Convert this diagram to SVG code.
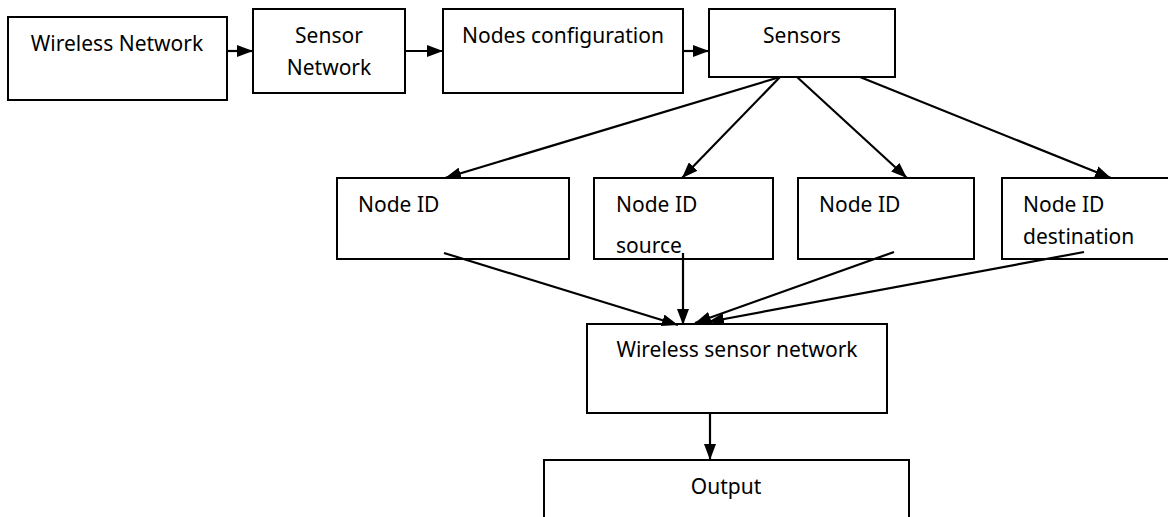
<svg xmlns="http://www.w3.org/2000/svg" width="1168" height="517" viewBox="0 0 1168 517">
<style>
.box{fill:#fff;stroke:#000;stroke-width:2}
.t{font-family:"Noto Sans","Open Sans",sans-serif;font-size:21px;fill:#000}
.c{text-anchor:middle}
.ln{stroke:#000;stroke-width:2.2;fill:none;marker-end:url(#ah)}
</style>
<defs>
<marker id="ah" markerUnits="userSpaceOnUse" markerWidth="16" markerHeight="12" refX="16" refY="6" orient="auto">
<path d="M0,0 L16,6 L0,12 z" fill="#000"/>
</marker>
</defs>
<rect width="1168" height="517" fill="#fff"/>
<g id="n-wireless-network"><rect class="box" x="8" y="17" width="219" height="83"/><text class="t c" x="117" y="51">Wireless Network</text></g>
<g id="n-sensor-network"><rect class="box" x="253" y="9" width="152" height="84"/><text class="t c" x="329" y="43">Sensor</text><text class="t c" x="329" y="75">Network</text></g>
<g id="n-nodes-config"><rect class="box" x="443" y="9" width="240" height="84"/><text class="t c" x="563" y="43">Nodes configuration</text></g>
<g id="n-sensors"><rect class="box" x="709" y="9" width="186" height="68"/><text class="t c" x="802" y="43">Sensors</text></g>
<g id="n-node-id-1"><rect class="box" x="337" y="178" width="232" height="81"/><text class="t" x="358" y="212">Node ID</text></g>
<g id="n-node-id-source"><rect class="box" x="594" y="178" width="179" height="81"/><text class="t" x="616" y="212">Node ID</text><text class="t" x="616" y="253">source</text></g>
<g id="n-node-id-3"><rect class="box" x="798" y="178" width="176" height="81"/><text class="t" x="819" y="212">Node ID</text></g>
<g id="n-node-id-destination"><rect class="box" x="1002" y="178" width="172" height="81"/><text class="t" x="1023" y="212">Node ID</text><text class="t" x="1023" y="244">destination</text></g>
<g id="n-wsn"><rect class="box" x="587" y="324" width="300" height="89"/><text class="t c" x="737" y="357">Wireless sensor network</text></g>
<g id="n-output"><rect class="box" x="544" y="460" width="365" height="60"/><text class="t c" x="726" y="494">Output</text></g>
<g id="connectors">
<line class="ln" x1="227" y1="51" x2="253" y2="51"/>
<line class="ln" x1="405" y1="51" x2="443" y2="51"/>
<line class="ln" x1="683" y1="51" x2="709" y2="51"/>
<line class="ln" x1="780" y1="77" x2="445" y2="178"/>
<line class="ln" x1="780" y1="77" x2="682" y2="178"/>
<line class="ln" x1="797" y1="77" x2="907" y2="178"/>
<line class="ln" x1="860" y1="77" x2="1111" y2="178"/>
<line class="ln" x1="444" y1="253" x2="678" y2="325"/>
<line class="ln" x1="683" y1="253" x2="683" y2="325"/>
<line class="ln" x1="894" y1="252" x2="695" y2="323"/>
<line class="ln" x1="1084" y1="252" x2="708" y2="322"/>
<line class="ln" x1="710" y1="413" x2="710" y2="460"/>
</g>
</svg>
